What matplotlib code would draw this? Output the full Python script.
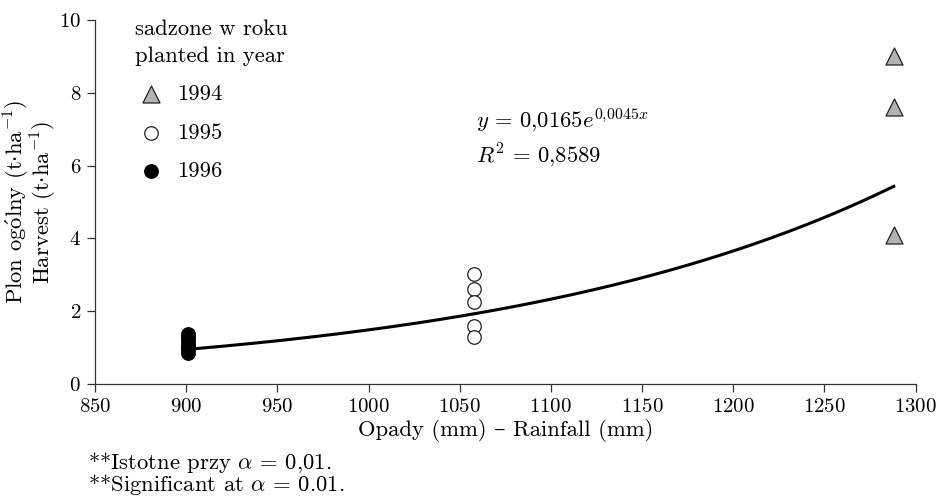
import numpy as np
import matplotlib
matplotlib.use('Agg')
from matplotlib import pyplot as plt

plt.rcParams['font.family'] = ['cmr10', 'DejaVu Serif']
plt.rcParams['mathtext.fontset'] = 'cm'
plt.rcParams['axes.formatter.use_mathtext'] = True
plt.rcParams['axes.unicode_minus'] = False

# rainfall (mm) and harvest (t/ha) per planting year
rain1994 = [1288, 1288, 1288]
yield1994 = [9.0, 7.6, 4.1]
rain1995 = [1058, 1058, 1058, 1058, 1058]
yield1995 = [3.02, 2.62, 2.26, 1.6, 1.3]
rain1996 = [901, 901, 901, 901, 901, 901, 901]
yield1996 = [0.85, 0.95, 1.02, 1.1, 1.2, 1.3, 1.37]

# fitted trend y = a * exp(b * x)
fitA = 0.0165
fitB = 0.0045
fitRange = [901, 1288]

xTicks = [850, 900, 950, 1000, 1050, 1100, 1150, 1200, 1250, 1300]
yTicks = [0, 2, 4, 6, 8, 10]

FS = 15      # tick labels
FT = 16.3    # other texts
AXCOL = '#333333'

fig = plt.figure(figsize=(9.43, 4.98), dpi=100)
ax = fig.add_axes([0.1007, 0.229, 0.8703, 0.731])

xs = np.linspace(fitRange[0], fitRange[1], 200)
ax.plot(xs, fitA * np.exp(fitB * xs), color='black', lw=2.2, zorder=2)

h94 = ax.scatter(rain1994, yield1994, marker='^', s=150, facecolor='#b3b3b3',
                 edgecolor='#222222', linewidth=0.9, zorder=3)
h95 = ax.scatter(rain1995, yield1995, marker='o', s=95, facecolor='white',
                 edgecolor='#222222', linewidth=0.9, zorder=3)
h96 = ax.scatter(rain1996, yield1996, marker='o', s=95, facecolor='black',
                 edgecolor='black', linewidth=0.9, zorder=3)

ax.set_xlim(850, 1300)
ax.set_ylim(0, 10)
ax.set_xticks(xTicks)
ax.set_yticks(yTicks)
ax.tick_params(labelsize=FS, length=6, width=0.9, color=AXCOL, pad=4)
for side in ['top', 'right']:
    ax.spines[side].set_visible(False)
for side in ['left', 'bottom']:
    ax.spines[side].set_color(AXCOL)
    ax.spines[side].set_linewidth(0.9)

ax.set_xlabel('Opady (mm) – Rainfall (mm)', fontsize=FT, labelpad=2)
fig.text(0.018, 0.594, r'Plon og$\acute{\mathrm{o}}$lny (t$\cdot$ha$^{-1}$)',
         rotation=90, fontsize=FT, ha='center', va='center')
fig.text(0.047, 0.594, r'Harvest (t$\cdot$ha$^{-1}$)', rotation=90,
         fontsize=FT, ha='center', va='center')

leg = ax.legend([h94, h95, h96], ['1994', '1995', '1996'],
                title='sadzone w roku\nplanted in year', frameon=False,
                loc='upper left', bbox_to_anchor=(0.024, 1.056), fontsize=FT,
                title_fontsize=FT, alignment='left', handletextpad=0.45,
                labelspacing=0.82, handlelength=1.4)
leg.get_title().set_linespacing(1.45)

ax.text(0.464, 0.725, r'$y\,=\,0{,}0165e^{0{,}0045x}$', transform=ax.transAxes,
        fontsize=FT, va='center')
ax.text(0.464, 0.629, r'$R^2\,=\,0{,}8589$', transform=ax.transAxes,
        fontsize=FT, va='center')

fig.text(0.093, 0.072, r'**Istotne przy $\alpha$ = 0,01.', fontsize=FT, va='center')
fig.text(0.093, 0.027, r'**Significant at $\alpha$ = 0.01.', fontsize=FT, va='center')

fig.savefig('out.png', dpi=100)
